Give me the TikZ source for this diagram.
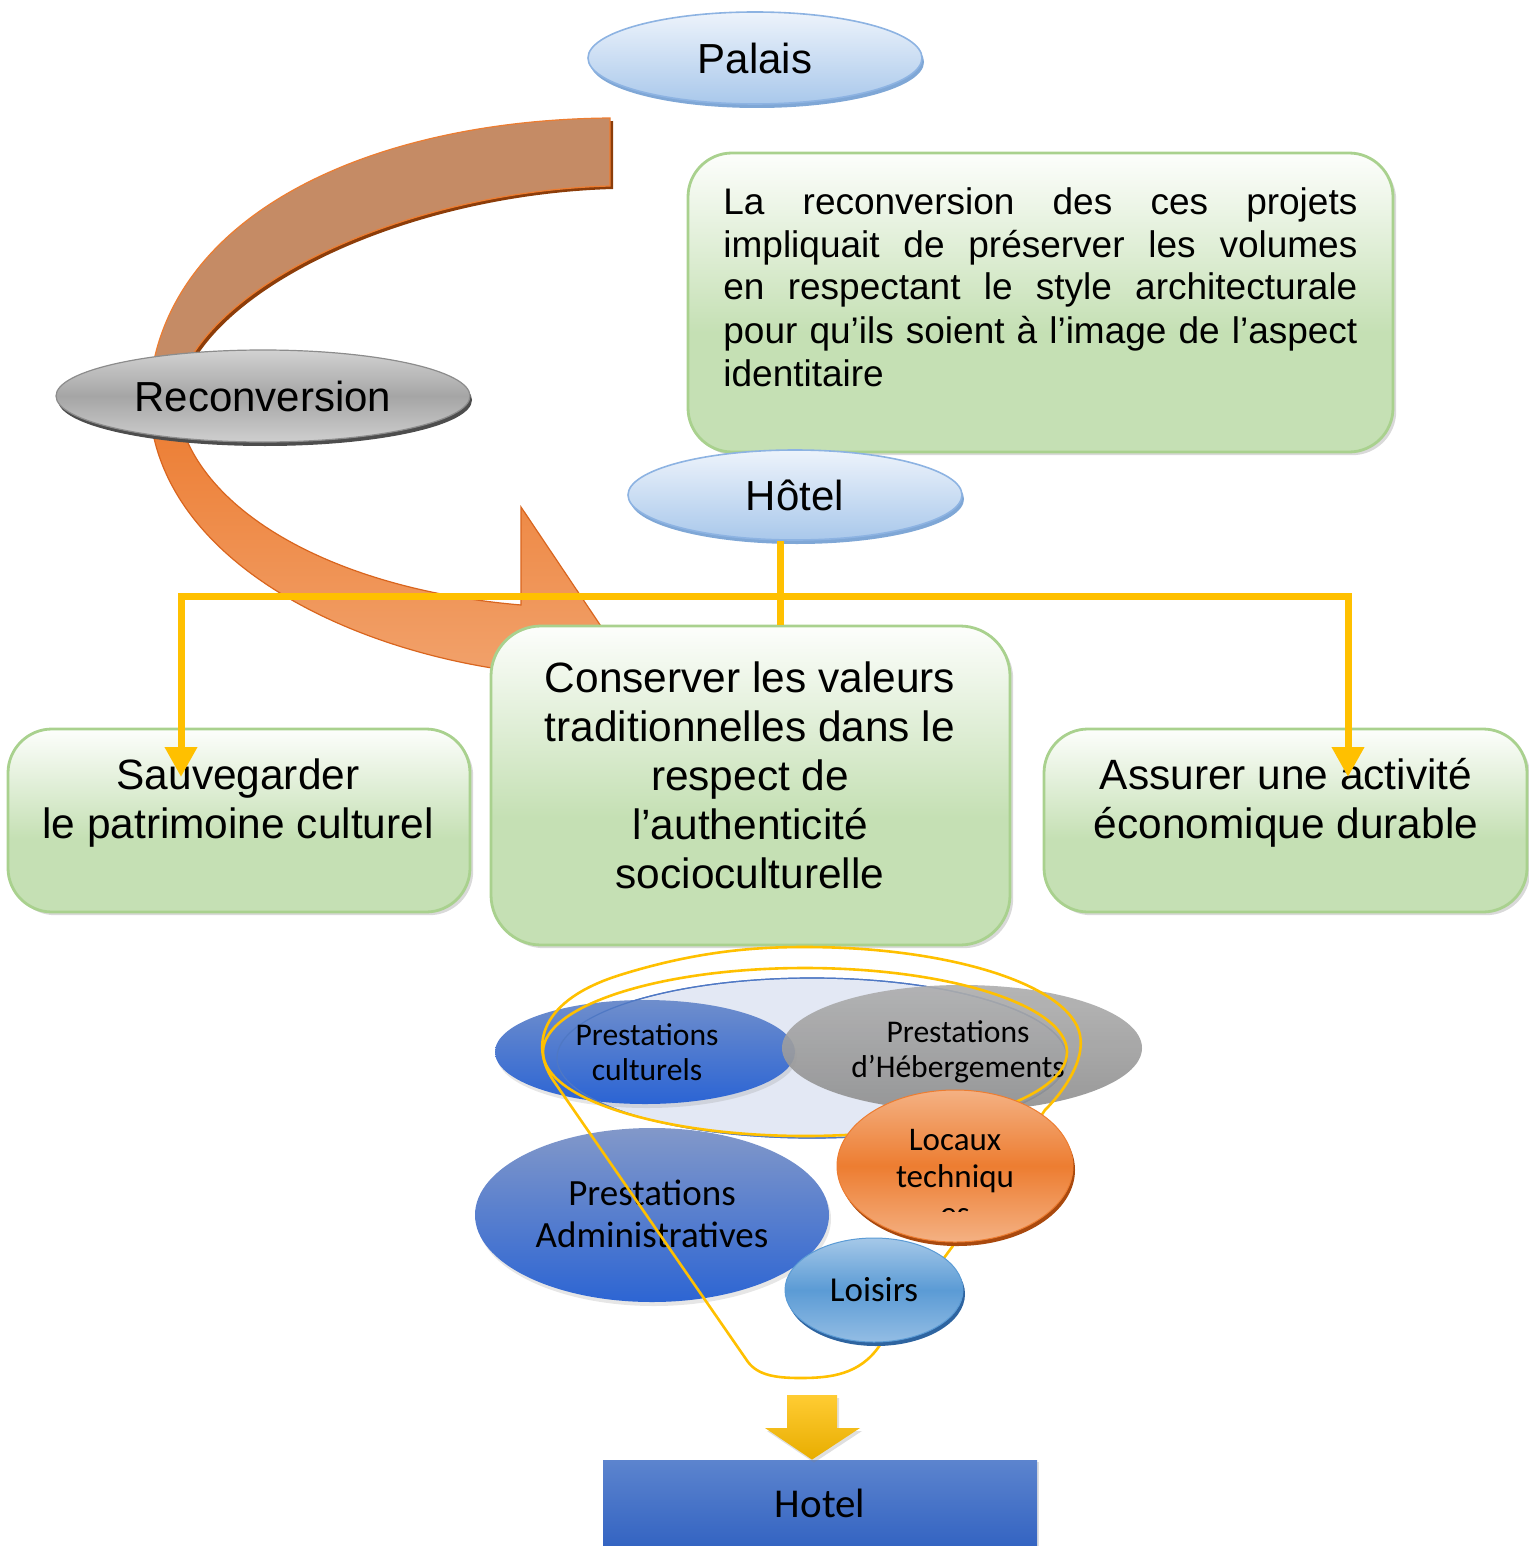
\documentclass[tikz,border=0pt]{standalone}
\usepackage{fontspec}
\setmainfont{Liberation Sans}
\newfontfamily\calibri{Carlito}
\usetikzlibrary{shapes.geometric,arrows.meta,shadows}
\definecolor{gT}{HTML}{FDFEFC}
\definecolor{gB}{HTML}{C5E0B4}
\definecolor{gD}{HTML}{A9D18E}
\definecolor{palT}{HTML}{EDF3FB}
\definecolor{palB}{HTML}{A9C8EB}
\definecolor{palD}{HTML}{8DB3E2}
\definecolor{palRim}{HTML}{7FA7D6}
\definecolor{recT}{HTML}{D2D2D2}
\definecolor{recM}{HTML}{A5A5A5}
\definecolor{recB}{HTML}{CFCFCF}
\definecolor{recD}{HTML}{8C8C8C}
\definecolor{recRim}{HTML}{4D4D4D}
\definecolor{orTop}{HTML}{C58B65}
\definecolor{orLine}{HTML}{ED7D31}
\definecolor{orA}{HTML}{EC7A2E}
\definecolor{orB}{HTML}{F2A672}
\definecolor{orShadow}{HTML}{8C3D0A}
\definecolor{orEdge}{HTML}{D9651E}
\definecolor{yel}{HTML}{FFC000}
\definecolor{lav}{HTML}{E3E8F4}
\definecolor{lavD}{HTML}{4F78C4}
\definecolor{culT}{HTML}{6F8ECC}
\definecolor{culB}{HTML}{2B64D4}
\definecolor{grT}{HTML}{ADADAD}
\definecolor{grB}{HTML}{8E8E8E}
\definecolor{admT}{HTML}{8298C9}
\definecolor{admB}{HTML}{2D65D3}
\definecolor{locT}{HTML}{F4B183}
\definecolor{locM}{HTML}{ED7D31}
\definecolor{locRim}{HTML}{A9490E}
\definecolor{loiT}{HTML}{A5C8E8}
\definecolor{loiM}{HTML}{5B9BD5}
\definecolor{loiB}{HTML}{93BDE4}
\definecolor{loiRim}{HTML}{2E64A0}
\definecolor{hotT}{HTML}{5C84CE}
\definecolor{hotB}{HTML}{3464C2}
\definecolor{arT}{HTML}{FFCC33}
\definecolor{arB}{HTML}{E8AD00}
\pgfdeclareverticalshading{greenbox}{100bp}{color(0bp)=(gB); color(25bp)=(gB); color(45bp)=(gB); color(75bp)=(gT); color(100bp)=(gT)}
\tikzset{
  ell/.style={ellipse, inner sep=0pt},
  gbox/.style={rectangle, rounded corners=22pt, shading=greenbox, draw=gD, line width=1.4pt,
    drop shadow={shadow xshift=1.6pt, shadow yshift=-1.6pt, opacity=0.3}},
  boxtext/.style={anchor=base, inner sep=0pt, align=center, font=\fontsize{21.2}{24.5}\selectfont},
  caltext/.style={anchor=base, inner sep=0pt, align=center},
  bluell/.style={ell, top color=palT, bottom color=palB, draw=palD, line width=0.8pt},
  ybar/.style={draw=yel, line width=3.5pt},
  ytip/.style={-{Triangle[width=15.5pt,length=15pt]}},
}
\begin{document}
\begin{tikzpicture}[x=0.5pt,y=-0.5pt]
\useasboundingbox (0,0) rectangle (1528,1546);
% curved orange arrow
\fill[orShadow] (613,121) .. controls (373,123) and (163,218) .. (152,399) -- (179,399) .. controls (198,293) and (403,195) .. (613,189) -- cycle;
\path[fill=orTop, draw=orLine, line width=0.6pt] (610,118) .. controls (370,120) and (160,215) .. (149,396) -- (176,396) .. controls (195,290) and (400,192) .. (610,186) -- cycle;
\path[top color=orA, bottom color=orB, draw=orEdge, line width=0.6pt] (149,396) .. controls (150,545) and (320,640) .. (492,668) -- (535,705) -- (625,662) -- (521,507) -- (521,605) .. controls (320,588) and (182,500) .. (176,396) -- cycle;
% Reconversion
\node[ell, fill=recRim, minimum width=207pt, minimum height=46pt] (recRim) at (265,400) {};
\node[ell, top color=recT, bottom color=recB, middle color=recM, draw=recD, line width=0.6pt, minimum width=207pt, minimum height=46pt, font=\fontsize{21}{25}\selectfont] (recon) at (263,396) {Reconversion};
% Palais
\node[ell, fill=palRim, minimum width=167pt, minimum height=46pt] (palaisRim) at (757,62) {};
\node[bluell, minimum width=167pt, minimum height=46pt, font=\fontsize{21}{25}\selectfont] (palais) at (755,58) {Palais};
% concept box
\node[gbox, minimum width=352.5pt, minimum height=149.5pt] (concept) at (1040.5,302.5) {};
\node[anchor=base west, inner sep=0pt] (conceptT) at (723,214) {\parbox[t]{317pt}{\fontsize{18.5}{21.5}\selectfont
\hbox to 317pt{La\hfill reconversion\hfill des\hfill ces\hfill projets}
\hbox to 317pt{impliquait\hfill de\hfill préserver\hfill les\hfill volumes}
\hbox to 317pt{en\hfill respectant\hfill le\hfill style\hfill architecturale}
\hbox to 317pt{pour\hfill qu’ils\hfill soient\hfill à\hfill l’image\hfill de\hfill l’aspect}
\hbox{identitaire}}};
% Hotel ellipse
\node[ell, fill=palRim, minimum width=167pt, minimum height=45pt] (hotelRim) at (797,499) {};
\node[bluell, minimum width=167pt, minimum height=45pt, font=\fontsize{21}{25}\selectfont] (hotelE) at (795,495) {Hôtel};
% three green boxes
\node[gbox, minimum width=231pt, minimum height=91.5pt] (sauv) at (239,820.5) {};
\node[boxtext] (sauvT) at (238,838) {Sauvegarder\\le patrimoine culturel};
\node[gbox, minimum width=259.5pt, minimum height=159.5pt, rounded corners=25pt] (cons) at (750.5,785.5) {};
\node[boxtext] (consT) at (750,888) {Conserver les valeurs\\traditionnelles dans le\\respect de\\l’authenticité\\socioculturelle};
\node[gbox, minimum width=241.5pt, minimum height=91.5pt] (assur) at (1285.5,820.5) {};
\node[boxtext] (assurT) at (1286,838) {Assurer une activité\\économique durable};
% yellow connectors
\coordinate (busL) at (181,596);
\coordinate (busR) at (1348,596);
\coordinate (tipL) at (181,777);
\coordinate (tipR) at (1348,777);
\draw[ybar] ([xshift=-7.5pt]hotelE.south) -- ([xshift=14.75pt]cons.north);
\draw[ybar, line cap=rect] (busL) -- (busR);
\draw[ybar, ytip] (busL) -- (tipL);
\draw[ybar, ytip] (busR) -- (tipR);
% bottom group
\node[ell, fill=lav, draw=lavD, line width=0.6pt, minimum width=255pt, minimum height=80pt] (lavE) at (812,1058) {};
\node[ell, top color=culT, bottom color=culB, minimum width=150pt, minimum height=52pt,
  drop shadow={shadow xshift=1pt, shadow yshift=-2pt, opacity=0.2}] (cult) at (645,1052) {};
\node[ell, draw=lavD, line width=0.6pt, minimum width=255pt, minimum height=80pt] (lavE2) at (812,1058) {};
\node[ell, top color=grT, bottom color=grB, opacity=0.9, minimum width=180pt, minimum height=63pt] (heb) at (962,1048) {};
\node[caltext, font=\calibri\fontsize{15.8}{17.5}\selectfont] (cultT) at (647,1080) {Prestations\\culturels};
\node[caltext, font=\calibri\fontsize{15.8}{17.5}\selectfont] (hebT) at (958,1077) {Prestations\\d’Hébergements};
\node[ell, top color=admT, bottom color=admB, minimum width=177pt, minimum height=87pt,
  drop shadow={shadow xshift=1pt, shadow yshift=-2pt, opacity=0.2}] (admin) at (652,1215) {};
\node[caltext, font=\calibri\fontsize{18.5}{21}\selectfont] (adminT) at (652,1247) {Prestations\\Administratives};
% yellow outlines
\node[ell, draw=yel, line width=1.3pt, minimum width=262pt, minimum height=84pt] (yinner) at (805,1052) {};
\draw[draw=yel, line width=1.3pt] (748,1362) -- (553,1080) .. controls (530,1045) and (540,1000) .. (620,975) .. controls (700,950) and (760,947) .. (805,947) .. controls (950,947) and (1070,985) .. (1080,1035) .. controls (1085,1060) and (1065,1090) .. (1045,1110) -- (955,1243) -- (880,1345) .. controls (860,1375) and (830,1378) .. (800,1378) .. controls (775,1378) and (758,1375) .. (748,1362);
% Locaux
\node[ell, fill=locRim, minimum width=118pt, minimum height=76pt] (locRimE) at (957,1170) {};
\node[ell, top color=locT, bottom color=locT, middle color=locM, draw=locM, line width=0.5pt, minimum width=118pt, minimum height=76pt] (locaux) at (955,1166) {};
\begin{scope}
\clip (845,1095) rectangle (1065,1211);
\node[caltext, font=\calibri\fontsize{16.5}{18.5}\selectfont] (locauxT) at (955,1224) {Locaux\\techniqu\\es};
\end{scope}
% Loisirs
\node[ell, fill=loiRim, minimum width=89pt, minimum height=52pt] (loiRimE) at (876,1294) {};
\node[ell, top color=loiT, bottom color=loiB, middle color=loiM, draw=loiM, line width=0.5pt, minimum width=89pt, minimum height=52pt, font=\calibri\fontsize{17.5}{20}\selectfont] (loisirs) at (874,1290) {Loisirs};
% Hotel result
\node[rectangle, top color=hotT, bottom color=hotB, minimum width=217pt, minimum height=43pt, inner sep=0pt, font=\calibri\fontsize{20.5}{24}\selectfont,
  drop shadow={shadow xshift=1pt, shadow yshift=-1pt, opacity=0.25}] (hotel) at (820,1503) {Hotel};
\path[top color=arT, bottom color=arB, drop shadow={shadow xshift=1pt, shadow yshift=-1.5pt, opacity=0.25}]
  (787,1395) -- (837,1395) -- (837,1428) -- (860,1428) -- (hotel.north -| 812,0) -- (765,1428) -- (787,1428) -- cycle;
\end{tikzpicture}
\end{document}
